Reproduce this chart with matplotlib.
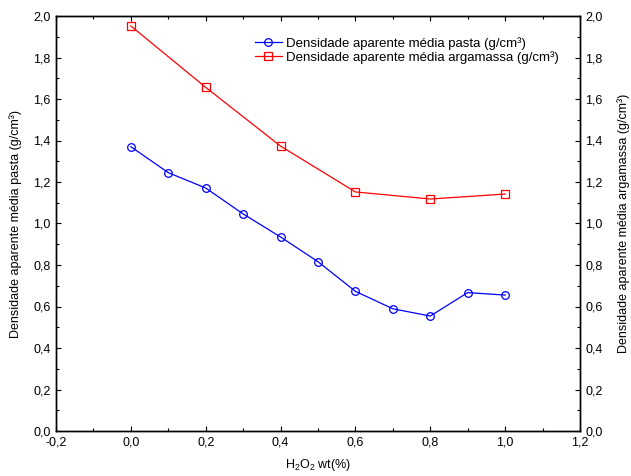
import matplotlib
matplotlib.use("Agg")
import matplotlib.pyplot as plt
from matplotlib.ticker import FuncFormatter, MultipleLocator

plt.rcParams['font.family'] = ['Liberation Sans', 'DejaVu Sans']
plt.rcParams['mathtext.fontset'] = 'custom'
plt.rcParams['mathtext.rm'] = 'Liberation Sans'

x_pasta = [0.0, 0.1, 0.2, 0.3, 0.4, 0.5, 0.6, 0.7, 0.8, 0.9, 1.0]
y_pasta = [1.370, 1.245, 1.171, 1.046, 0.935, 0.816, 0.673, 0.589, 0.554, 0.667, 0.655]
x_arg = [0.0, 0.2, 0.4, 0.6, 0.8, 1.0]
y_arg = [1.952, 1.656, 1.373, 1.152, 1.118, 1.142]

lbl_pasta = 'Densidade aparente média pasta (g/cm³)'
lbl_arg = 'Densidade aparente média argamassa (g/cm³)'

fig = plt.figure(figsize=(6.31, 4.76), dpi=100)
ax = fig.add_axes([56/631, 45/476, 524/631, 415/476])
ax2 = ax.twinx()

comma = FuncFormatter(lambda v, p: f"{v:.1f}".replace('.', ','))

l1, = ax.plot(x_pasta, y_pasta, color='#0000ff', lw=0.9, marker='o', ms=5.5,
              mfc='none', mec='#0000ff', mew=0.9)
l2, = ax2.plot(x_arg, y_arg, color='#ff0000', lw=0.9, marker='s', ms=5.5,
               mfc='none', mec='#ff0000', mew=0.9)

for a in (ax, ax2):
    a.set_ylim(0, 2.0)
    a.yaxis.set_major_locator(MultipleLocator(0.2))
    a.yaxis.set_minor_locator(MultipleLocator(0.1))
    a.yaxis.set_major_formatter(comma)
ax.set_xlim(-0.2, 1.2)
ax.xaxis.set_major_locator(MultipleLocator(0.2))
ax.xaxis.set_minor_locator(MultipleLocator(0.1))
ax.xaxis.set_major_formatter(comma)

ax.tick_params(which='both', direction='in', top=True, labelsize=9, pad=4)
ax.tick_params(which='major', length=3.5, width=0.8)
ax.tick_params(which='minor', length=2, width=0.8)
ax.tick_params(axis='y', right=False)
ax2.tick_params(which='both', direction='in', labelsize=9, pad=4)
ax2.tick_params(which='major', length=3.5, width=0.8)
ax2.tick_params(which='minor', length=2, width=0.8)

for a in (ax, ax2):
    for s in a.spines.values():
        s.set_linewidth(1.0)

ax.set_xlabel(r'$\mathregular{H_2O_2}$ wt(%)', fontsize=9, labelpad=6)
ax.set_ylabel(lbl_pasta, fontsize=9, labelpad=8)
ax2.set_ylabel(lbl_arg, fontsize=9, labelpad=10)

ax.legend([l1, l2], [lbl_pasta, lbl_arg], loc='upper left',
          bbox_to_anchor=(0.36, 0.975), frameon=False, fontsize=9.5,
          handlelength=2.0, handletextpad=0.35, labelspacing=0.1, borderpad=0.3)

fig.savefig('out.png', dpi=100)
